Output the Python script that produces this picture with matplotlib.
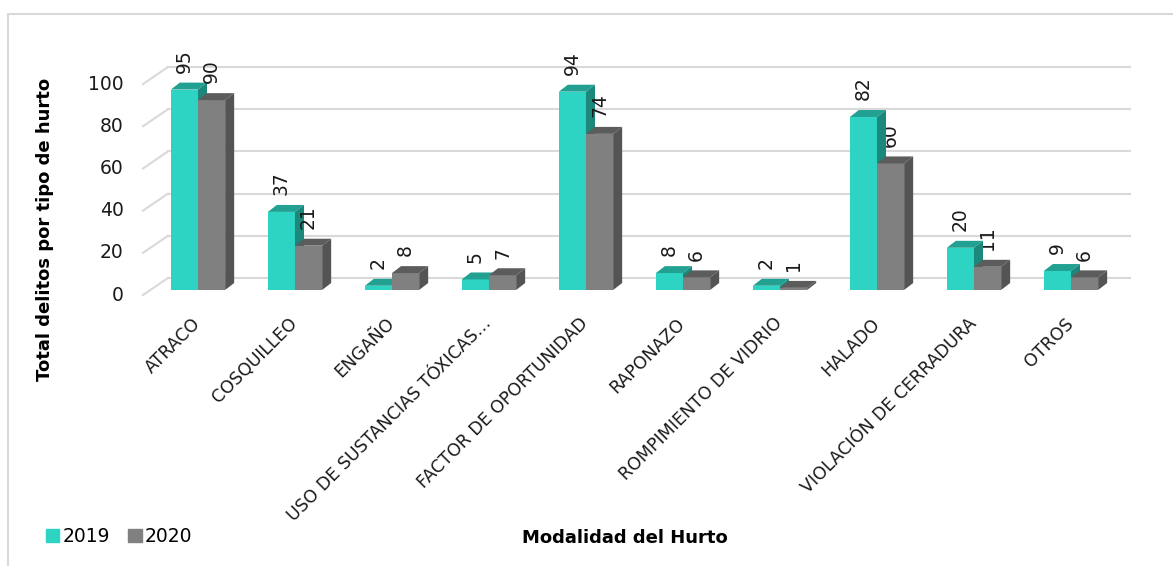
import matplotlib.pyplot as plt
from matplotlib.patches import Polygon, Patch, Rectangle

categorias = ['ATRACO', 'COSQUILLEO', 'ENGAÑO', 'USO DE SUSTANCIAS TÓXICAS…',
              'FACTOR DE OPORTUNIDAD', 'RAPONAZO', 'ROMPIMIENTO DE VIDRIO',
              'HALADO', 'VIOLACIÓN DE CERRADURA', 'OTROS']
v2019 = [95, 37, 2, 5, 94, 8, 2, 82, 20, 9]
v2020 = [90, 21, 8, 7, 74, 6, 1, 60, 11, 6]
yticks = [0, 20, 40, 60, 80, 100]

# colores: frente, techo, lado
c19 = ('#2dd4c3', '#22a193', '#1c877b')
c20 = ('#808080', '#5c5c5c', '#545454')

w = 0.28     # ancho de barra
dx = 0.093   # profundidad horizontal
dy = 3.3     # profundidad vertical
gx = 0.258   # desplazamiento pared del fondo
gy = 5.7
fy = -2.4    # piso frontal

fig = plt.figure(figsize=(11.73, 5.66), dpi=100)
ax = fig.add_axes([0.1219, 0.4765, 0.8414, 0.4398])
x0, x1 = -0.567, 9.608
ax.set_xlim(x0, x1)
ax.set_ylim(-3, 115)
ax.axis('off')

# rejilla "3d"
for v in yticks:
    ax.plot([x0, x0 + gx], [v + fy, v + gy], color='#d9d9d9', lw=1.5, zorder=0, clip_on=False)
    ax.plot([x0 + gx, x1], [v + gy, v + gy], color='#d9d9d9', lw=1.5, zorder=0, clip_on=False)
    ax.text(x0 - 0.2, v + fy, str(v), ha='right', va='center', fontsize=13.5, color='#1a1a1a')


def barra3d(xc, val, cols, z):
    xl, xr = xc - w / 2, xc + w / 2
    ax.bar(xc, val, width=w, color=cols[0], zorder=z, linewidth=0)
    ax.add_patch(Polygon([(xl, val), (xl + dx, val + dy), (xr + dx, val + dy), (xr, val)],
                         closed=True, facecolor=cols[1], linewidth=0, zorder=z))
    ax.add_patch(Polygon([(xr, 0), (xr + dx, dy), (xr + dx, val + dy), (xr, val)],
                         closed=True, facecolor=cols[2], linewidth=0, zorder=z))
    ax.annotate(str(val), (xc, val + dy), xytext=(0, 7), textcoords='offset points',
                rotation=90, ha='center', va='bottom', fontsize=13.5, color='#1a1a1a',
                zorder=10)


for i in range(len(categorias)):
    barra3d(i - w / 2, v2019[i], c19, 2 + i * 2)
    barra3d(i + w / 2, v2020[i], c20, 3 + i * 2)
    ax.annotate(categorias[i], (i - 0.07, -3), xytext=(0, -13), textcoords='offset points',
                rotation=45, ha='right', va='top', rotation_mode='anchor',
                fontsize=12.5, color='#1a1a1a', annotation_clip=False)

fig.text(0.038, 0.594, 'Total delitos por tipo de hurto', rotation=90, ha='center',
         va='center', fontsize=13, fontweight='bold')
fig.text(0.533, 0.049, 'Modalidad del Hurto', ha='center', va='center',
         fontsize=13, fontweight='bold')

handles = [Patch(color=c19[0], label='2019'), Patch(color=c20[0], label='2020')]
fig.legend(handles=handles, loc='center left', bbox_to_anchor=(0.025, 0.052), ncol=2,
           frameon=False, fontsize=13.5, handlelength=0.7, handleheight=0.7,
           handletextpad=0.15, columnspacing=1.0)

fig.add_artist(Rectangle((8 / 1173, -0.01), 1.1, 1 - 14 / 566 + 0.01,
                         transform=fig.transFigure, fill=False,
                         edgecolor='#d9d9d9', lw=1.5))

fig.savefig('out.png', dpi=100)
